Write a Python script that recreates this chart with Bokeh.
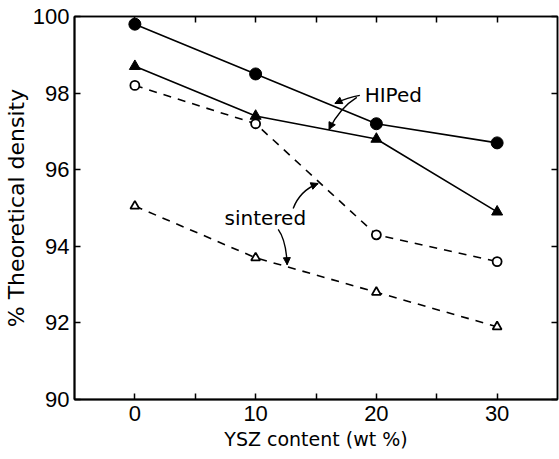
from bokeh.plotting import figure
from bokeh.models import (Range1d, FixedTicker, LinearAxis, Arrow, NormalHead, Label)
from bokeh.embed import file_html
from bokeh.resources import INLINE

# Data
ysz = [0, 10, 20, 30]
hiped_circle = [99.8, 98.5, 97.2, 96.7]
hiped_triangle = [98.7, 97.4, 96.8, 94.9]
sint_circle = [98.2, 97.2, 94.3, 93.6]
sint_triangle = [95.05, 93.7, 92.8, 91.9]
x_ticks = [0, 10, 20, 30]
x_minor = [5, 15, 25]
y_ticks = [90, 92, 94, 96, 98, 100]

# annotation curves: (x0, y0, cx, cy, x1, y1)
hiped_arrows = [(18.63, 97.94, 17.64, 97.89, 16.57, 97.73),
                (18.38, 97.89, 16.98, 97.62, 16.08, 97.05)]
sint_arrows = [(13.11, 94.99, 13.69, 95.46, 15.17, 95.64),
               (11.87, 94.44, 12.53, 94.15, 12.61, 93.52)]

TICKFONT = "Liberation Sans"
FONT = "DejaVu Sans"

p = figure(width=559, height=459, output_backend="svg", toolbar_location=None,
           x_range=Range1d(-5, 35), y_range=Range1d(90, 100),
           min_border_left=73, min_border_right=2, min_border_top=16, min_border_bottom=60)
p.grid.visible = False
p.outline_line_color = "black"
p.outline_line_width = 1.5
p.background_fill_color = "white"
p.border_fill_color = "white"

xa = p.xaxis[0]
xa.ticker = FixedTicker(ticks=x_ticks, minor_ticks=x_minor)
xa.axis_label = "YSZ content (wt %)"
ya = p.yaxis[0]
ya.ticker = FixedTicker(ticks=y_ticks, minor_ticks=[])
ya.axis_label = "% Theoretical density"
for ax in (xa, ya):
    ax.axis_line_width = 2
    ax.major_tick_in = 6
    ax.major_tick_out = 0
    ax.minor_tick_in = 6
    ax.minor_tick_out = 0
    ax.major_tick_line_width = 1.5
    ax.minor_tick_line_width = 1.5
    ax.major_label_text_font = TICKFONT
    ax.major_label_text_font_size = "22px"
    ax.major_label_text_color = "black"
    ax.axis_label_text_font = FONT
    ax.axis_label_text_font_style = "normal"
    ax.axis_label_text_color = "black"
xa.axis_label_text_font_size = "19px"
ya.axis_label_text_font_size = "22px"
xa.major_label_standoff = 6
xa.axis_label_standoff = 4
ya.major_label_standoff = 5
ya.axis_label_standoff = 1

# mirror axes (ticks only, no labels)
ra = LinearAxis(ticker=FixedTicker(ticks=y_ticks, minor_ticks=[]))
ta = LinearAxis(ticker=FixedTicker(ticks=x_ticks, minor_ticks=x_minor))
ra.major_label_overrides = {t: "" for t in y_ticks}
ta.major_label_overrides = {t: "" for t in x_ticks}
for ax in (ra, ta):
    ax.major_tick_in = 6
    ax.major_tick_out = 0
    ax.minor_tick_in = 6
    ax.minor_tick_out = 0
    ax.major_tick_line_width = 1.5
    ax.minor_tick_line_width = 1.5
    ax.major_label_standoff = 0
    ax.axis_line_width = 1.5
p.add_layout(ra, "right")
p.add_layout(ta, "above")

# series
p.line(ysz, hiped_circle, line_color="black", line_width=1.6)
p.scatter(ysz, hiped_circle, marker="circle", size=12, fill_color="black", line_color="black")
p.line(ysz, hiped_triangle, line_color="black", line_width=1.6)
p.scatter(ysz, hiped_triangle, marker="triangle", size=11, fill_color="black", line_color="black")
p.line(ysz, sint_circle, line_color="black", line_width=1.6, line_dash="8 7")
p.scatter(ysz, sint_circle, marker="circle", size=9, fill_color="white", line_color="black", line_width=1.8)
p.line(ysz, sint_triangle, line_color="black", line_width=1.6, line_dash="8 7")
p.scatter(ysz, sint_triangle, marker="triangle", size=9, fill_color="white", line_color="black", line_width=1.8)

# annotations
for (x0, y0, cx, cy, x1, y1) in hiped_arrows + sint_arrows:
    p.quadratic(x0=x0, y0=y0, cx=cx, cy=cy, x1=x1, y1=y1, line_color="black", line_width=1.4)
    p.add_layout(Arrow(end=NormalHead(size=7, fill_color="black", line_color="black"),
                       x_start=cx, y_start=cy, x_end=x1, y_end=y1, line_alpha=0))

p.add_layout(Label(x=21.4, y=97.94, text="HIPed", text_font=FONT, text_font_size="20px",
                   text_align="center", text_baseline="middle", text_color="black"))
p.add_layout(Label(x=10.8, y=94.73, text="sintered", text_font=FONT, text_font_size="20px",
                   text_align="center", text_baseline="middle", text_color="black"))

open("out.html", "w").write(file_html(p, INLINE))
